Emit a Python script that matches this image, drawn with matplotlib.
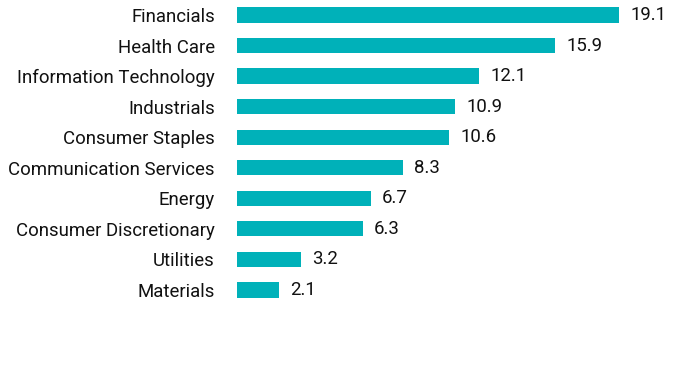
import matplotlib.pyplot as plt

sectors = ["Financials", "Health Care", "Information Technology", "Industrials",
           "Consumer Staples", "Communication Services", "Energy",
           "Consumer Discretionary", "Utilities", "Materials"]
weights = [19.1, 15.9, 12.1, 10.9, 10.6, 8.3, 6.7, 6.3, 3.2, 2.1]

plt.rcParams['font.family'] = ['Roboto', 'DejaVu Sans']

fig = plt.figure(figsize=(6.96, 3.84), dpi=100)
ax = fig.add_axes([237 / 696, 0, 1 - 237 / 696, 1])

pos = list(range(len(sectors)))
ax.barh(pos, weights, height=0.5, color="#00B1B9")
for p, w in zip(pos, weights):
    ax.text(w + 0.55, p, f"{w:.1f}", va="center", ha="left", fontsize=13.4, color="#111111")

ax.set_xlim(0, (696 - 237) / 20)
ax.set_ylim(12.08, -0.49)
ax.set_yticks(pos)
ax.set_yticklabels(sectors, fontsize=13.4, color="#111111")
ax.tick_params(axis="y", length=0, pad=16)
ax.set_xticks([])
for s in ax.spines.values():
    s.set_visible(False)

fig.savefig("out.png", dpi=100)
